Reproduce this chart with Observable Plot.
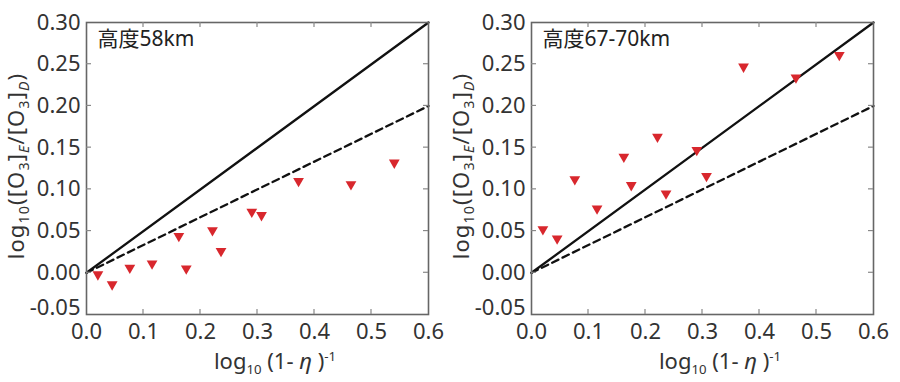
<!DOCTYPE html>
<html><head><meta charset="utf-8">
<script src="https://cdn.jsdelivr.net/npm/d3@7"></script>
<script src="https://cdn.jsdelivr.net/npm/@observablehq/plot@0.6"></script>
<style>
body{margin:0;background:#fff;}
#wrap{display:flex;width:900px;height:382px;}
#wrap > div{width:450px;height:382px;}
</style></head><body><div id="wrap"><div id="p1"></div><div id="p2"></div></div>
<script>
// log10(1-eta)^-1 values (shared by both panels)
const etaX = [0.020, 0.045, 0.076, 0.115, 0.162, 0.175, 0.221, 0.236, 0.290, 0.307, 0.372, 0.464, 0.540];
// log10([O3]E/[O3]D) at 58 km
const ratio58 = [-0.002, -0.014, 0.006, 0.011, 0.044, 0.005, 0.051, 0.026, 0.073, 0.069, 0.110, 0.106, 0.132];
// log10([O3]E/[O3]D) at 67-70 km
const ratio6770 = [0.052, 0.041, 0.112, 0.077, 0.139, 0.105, 0.163, 0.095, 0.147, 0.116, 0.247, 0.234, 0.261];
const panelLabels = ["高度58km", "高度67-70km"];
const xTicks = [0, 0.1, 0.2, 0.3, 0.4, 0.5, 0.6];
const yTicks = [-0.05, 0, 0.05, 0.10, 0.15, 0.20, 0.25, 0.30];
// reference lines: slope 1/2 (solid) and slope 1/3 (dashed)
const refX = [0, 0.6];
const refSolid = [0, 0.3];
const refDashed = [0, 0.2];

const FONT = '"Noto Sans","Noto Sans CJK JP",sans-serif';
const TXT = "#333";

function addRich(sel, parts, base, subScale) {
  let shift = 0;
  for (const p of parts) {
    const target = p.sub ? 5 : p.sup ? -8 : 0;
    const ts = sel.append("tspan").text(p.t)
      .attr("font-size", p.sub || p.sup ? base * subScale : base)
      .attr("dy", target - shift);
    if (p.italic) ts.attr("font-style", "italic");
    shift = target;
  }
}

function makePanel(id, ys, label, m, yLabX) {
  const data = etaX.map((x, i) => ({x, y: ys[i]}));
  const ref = refX.map((x, i) => ({x, s: refSolid[i], d: refDashed[i]}));
  const plot = Plot.plot({
    width: 450, height: 382,
    marginLeft: m.left, marginRight: m.right, marginTop: 22, marginBottom: 68,
    style: {fontFamily: FONT, fontSize: "22px", color: TXT, background: "#fff", overflow: "visible"},
    x: {domain: [0, 0.6], label: null},
    y: {domain: [-0.05, 0.30], label: null},
    marks: [
      Plot.axisX({ticks: xTicks, tickFormat: d => d.toFixed(1), tickSize: 0, tickPadding: 9, label: null}),
      Plot.axisY({ticks: yTicks.slice(1), tickFormat: d => d.toFixed(2), tickSize: 0, tickPadding: 6, label: null}),
      Plot.axisY({ticks: yTicks.slice(0, 1), tickFormat: d => d.toFixed(2), tickSize: 0, tickPadding: 6, dy: -7, label: null}),
      Plot.line(ref, {x: "x", y: "s", stroke: "#111", strokeWidth: 2.3}),
      Plot.line(ref, {x: "x", y: "d", stroke: "#111", strokeWidth: 2.3, strokeDasharray: "7,4.5"}),
      Plot.dot(data, {x: "x", y: "y", symbol: "triangle", rotate: 180, r: 4, fill: "#d8272d", stroke: "none"}),
      Plot.text([label], {frameAnchor: "top-left", dx: 11, dy: 9, textAnchor: "start", lineAnchor: "top", fontSize: 21, fill: "#222"}),
      Plot.frame({stroke: "#666", strokeWidth: 1.6})
    ]
  });
  const sx = plot.scale("x"), sy = plot.scale("y");
  const svg = d3.select(plot);
  const x0 = sx.apply(0), x1 = sx.apply(0.6), y0 = sy.apply(-0.05), y1 = sy.apply(0.30);
  const g = svg.append("g").attr("stroke", "#888").attr("stroke-width", 1.2);
  for (const t of xTicks.slice(1, -1)) {
    const px = sx.apply(t);
    g.append("line").attr("x1", px).attr("x2", px).attr("y1", y0).attr("y2", y0 - 5);
    g.append("line").attr("x1", px).attr("x2", px).attr("y1", y1).attr("y2", y1 + 5);
  }
  for (const t of yTicks.slice(1, -1)) {
    const py = sy.apply(t);
    g.append("line").attr("y1", py).attr("y2", py).attr("x1", x0).attr("x2", x0 + 5);
    g.append("line").attr("y1", py).attr("y2", py).attr("x1", x1).attr("x2", x1 - 5);
  }
  // y label
  const yl = svg.append("text").attr("fill", TXT).attr("font-family", FONT).attr("text-anchor", "middle")
    .attr("letter-spacing", "1.1px")
    .attr("transform", `translate(${yLabX},166) rotate(-90)`);
  addRich(yl, [{t: "log"}, {t: "10", sub: true}, {t: "([O"}, {t: "3", sub: true}, {t: "]"}, {t: "E", sub: true, italic: true},
    {t: "/[O"}, {t: "3", sub: true}, {t: "]"}, {t: "D", sub: true, italic: true}, {t: ")"}], 22, 0.65);
  // x label
  const xl = svg.append("text").attr("fill", TXT).attr("font-family", FONT).attr("text-anchor", "middle")
    .attr("transform", `translate(${(x0 + x1) / 2 + 18},369)`);
  addRich(xl, [{t: "log"}, {t: "10", sub: true}, {t: " (1- "}, {t: "η", italic: true}, {t: " )"}, {t: "-1", sup: true}], 22, 0.6);
  document.getElementById(id).appendChild(plot);
}

makePanel("p1", ratio58, panelLabels[0], {left: 86, right: 22}, 24);
makePanel("p2", ratio6770, panelLabels[1], {left: 81, right: 27}, 19);
</script></body></html>
